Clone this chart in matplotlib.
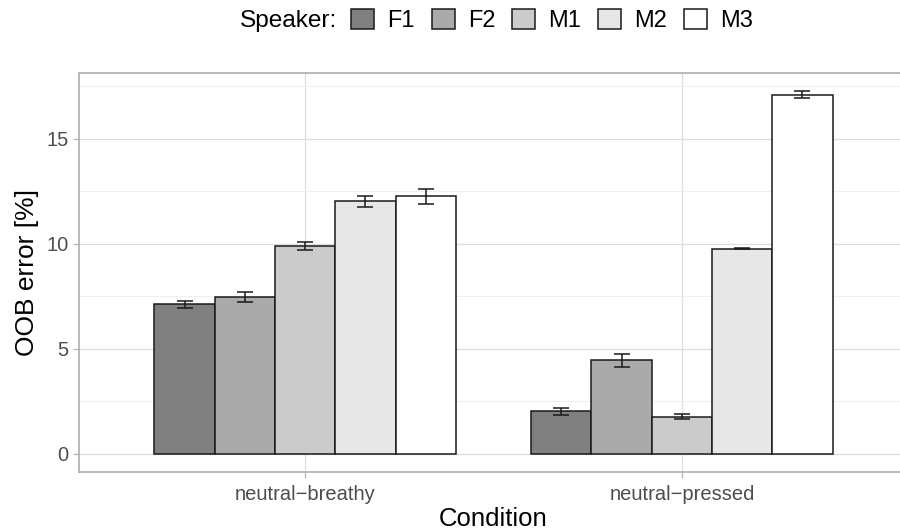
import numpy as np
import matplotlib
matplotlib.use("Agg")
import matplotlib.pyplot as plt
from matplotlib.patches import Patch

plt.rcParams['font.family'] = ['Liberation Sans', 'DejaVu Sans']

# data
conditions = ['neutral\u2212breathy', 'neutral\u2212pressed']
speakers = ['F1', 'F2', 'M1', 'M2', 'M3']
oob_breathy = [7.12, 7.47, 9.92, 12.04, 12.26]
err_breathy = [0.17, 0.22, 0.19, 0.26, 0.34]
oob_pressed = [2.02, 4.46, 1.77, 9.78, 17.10]
err_pressed = [0.17, 0.32, 0.13, 0.04, 0.17]
fills = ['#808080', '#AAAAAA', '#CBCBCB', '#E7E7E7', '#FFFFFF']

values = np.array([oob_breathy, oob_pressed])
errors = np.array([err_breathy, err_pressed])

fig = plt.figure(figsize=(9, 5.31), dpi=100)
ax = fig.add_axes([79 / 900, 1 - 472 / 531, (908 - 79) / 900, (472 - 73) / 531])

x = np.arange(1, len(conditions) + 1)
group_w = 0.8
bar_w = group_w / len(speakers)

for i, spk in enumerate(speakers):
    pos = x - group_w / 2 + bar_w * (i + 0.5)
    ax.bar(pos, values[:, i], width=bar_w, color=fills[i], edgecolor='#1a1a1a',
           linewidth=1.1, label=spk, zorder=3)
    ax.errorbar(pos, values[:, i], yerr=errors[:, i], fmt='none', ecolor='#1a1a1a',
                elinewidth=1.1, capsize=5.5, capthick=1.1, zorder=4)

ax.set_xlim(0.4, 2.6)
ax.set_ylim(-0.864, 18.14)
ax.set_xticks(x)
ax.set_xticklabels(conditions)
ax.set_yticks([0, 5, 10, 15])
ax.set_yticks([2.5, 7.5, 12.5, 17.5], minor=True)
ax.set_xticks([], minor=True)

ax.grid(True, which='major', color='#dedede', linewidth=0.9, zorder=0)
ax.grid(True, which='minor', axis='y', color='#ececec', linewidth=0.6, zorder=0)
ax.set_axisbelow(True)

for s in ax.spines.values():
    s.set_color('#b3b3b3')
    s.set_linewidth(1.3)

ax.tick_params(axis='both', which='major', color='#b3b3b3', length=4.5, width=0.9)
ax.tick_params(axis='y', which='major', labelsize=14.5, labelcolor='#4d4d4d', pad=3)
ax.tick_params(axis='x', which='major', labelsize=14.5, labelcolor='#4d4d4d', pad=5)
ax.tick_params(which='minor', length=0)

ax.set_xlabel('Condition', fontsize=18.5, color='black', labelpad=2)
ax.set_ylabel('OOB error [%]', fontsize=19, color='black', labelpad=5)

handles = [Patch(facecolor=c, edgecolor='#1a1a1a', linewidth=1.1) for c in fills]
leg = fig.legend(handles, speakers, loc='center', bbox_to_anchor=(552 / 900, 1 - 20.5 / 531),
                 ncol=5, frameon=False, fontsize=17, handlelength=0.97, handleheight=0.97,
                 handletextpad=0.55, columnspacing=0.72, borderpad=0)
fig.text(337 / 900, 1 - 20.5 / 531, 'Speaker:', fontsize=17.6, ha='right', va='center')

fig.savefig('out.png', dpi=100)
